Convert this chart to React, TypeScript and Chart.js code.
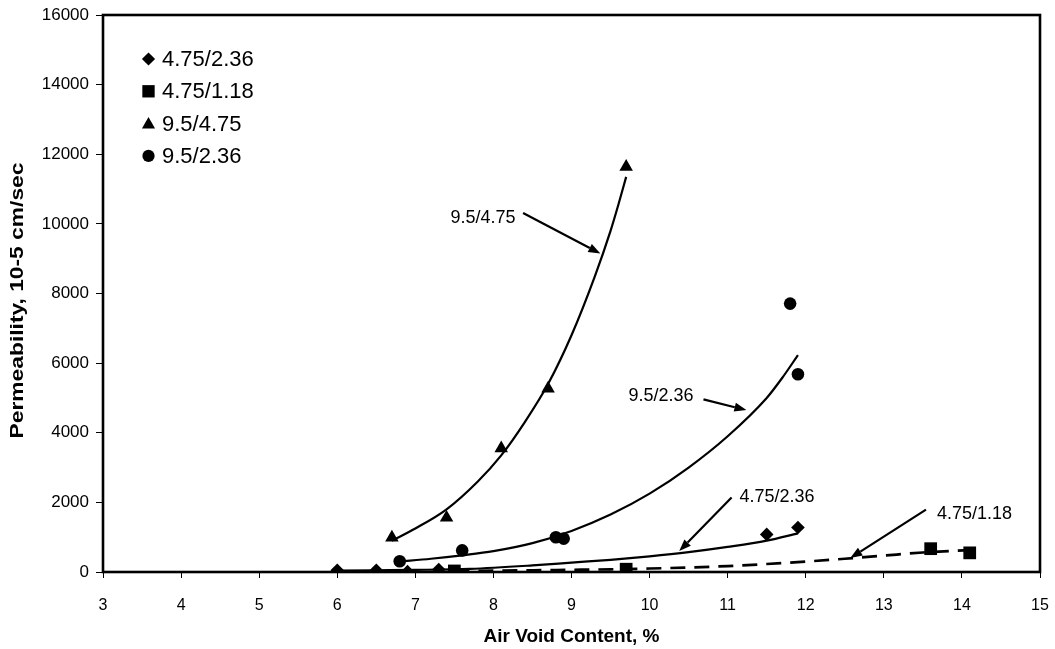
import React, { useEffect, useRef } from "react";
import { Chart, registerables } from "chart.js";

Chart.register(...registerables);

const FONT = "'Liberation Sans', Arial, Helvetica, sans-serif";

// ---- axis ----
const xMin = 3;
const xMax = 15;
const yMin = 0;
const yMax = 16000;
const xTitle = "Air Void Content, %";
const yTitle = "Permeability, 10-5 cm/sec";

// ---- series (markers) ----
const seriesNames = ["4.75/2.36", "4.75/1.18", "9.5/4.75", "9.5/2.36"];
const seriesStyles = ["rectRot", "rect", "triangle", "circle"];
const seriesRadius = [6.8, 9, 7.8, 6.3];

const s1x = [6.0, 6.5, 6.9, 7.3, 11.5, 11.9];
const s1y = [50, 50, 10, 70, 1080, 1280];
const s2x = [7.5, 9.7, 13.6, 14.1];
const s2y = [30, 80, 670, 550];
const s3x = [6.7, 7.4, 8.1, 8.7, 9.7];
const s3y = [990, 1560, 3550, 5270, 11640];
const s4x = [6.8, 7.6, 8.8, 8.9, 11.8, 11.9];
const s4y = [310, 620, 1000, 960, 7710, 5680];

// ---- trend curves ----
const t1x = [6.0, 6.5, 7.0, 7.7, 8.5, 9.0, 9.5, 10.0, 10.5, 11.0, 11.5, 11.9];
const t1y = [40, 50, 60, 90, 190, 270, 350, 450, 570, 720, 900, 1110];
const t2x = [7.5, 8.0, 8.5, 9.0, 9.5, 10.0, 10.5, 11.0, 11.5, 12.0, 12.5, 13.0, 13.5, 14.1];
const t2y = [30, 40, 50, 62, 78, 100, 130, 170, 230, 300, 380, 470, 560, 630];
const t3x = [6.7, 7.0, 7.4, 7.8, 8.1, 8.4, 8.7, 9.0, 9.3, 9.5, 9.6, 9.7];
const t3y = [900, 1250, 1800, 2600, 3350, 4300, 5400, 6800, 8500, 9800, 10550, 11350];
const t4x = [6.8, 7.2, 7.6, 8.0, 8.5, 9.0, 9.5, 10.0, 10.5, 11.0, 11.5, 11.7, 11.9];
const t4y = [300, 380, 480, 600, 830, 1180, 1650, 2250, 3000, 3900, 5000, 5580, 6230];

// ---- annotations (text + arrow), in data units ----
const annTexts = ["9.5/4.75", "9.5/2.36", "4.75/2.36", "4.75/1.18"];
const annTextX = [7.45, 9.73, 11.15, 13.68];
const annTextY = [10190, 5080, 2175, 1690];
const annFromX = [8.38, 10.69, 11.05, 13.54];
const annFromY = [10310, 4960, 2140, 1790];
const annToX = [9.37, 11.24, 10.38, 12.57];
const annToY = [9150, 4650, 600, 400];

const zip = (xs: number[], ys: number[]) => xs.map((x, i) => ({ x, y: ys[i] }));

function drawMarker(ctx: CanvasRenderingContext2D, style: string, x: number, y: number, r: number) {
  ctx.beginPath();
  if (style === "rectRot") {
    ctx.moveTo(x - r, y);
    ctx.lineTo(x, y - r);
    ctx.lineTo(x + r, y);
    ctx.lineTo(x, y + r);
    ctx.closePath();
  } else if (style === "rect") {
    const s = Math.SQRT1_2 * r;
    ctx.rect(x - s, y - s, 2 * s, 2 * s);
  } else if (style === "triangle") {
    const h = (Math.sqrt(3) / 2) * r;
    ctx.moveTo(x, y - r);
    ctx.lineTo(x + h, y + r / 2);
    ctx.lineTo(x - h, y + r / 2);
    ctx.closePath();
  } else {
    ctx.arc(x, y, r, 0, Math.PI * 2);
  }
  ctx.fill();
}

const framePlugin = {
  id: "frame",
  beforeDatasetsDraw(chart: any) {
    const { ctx, chartArea: a } = chart;
    ctx.save();
    ctx.strokeStyle = "#000";
    ctx.lineWidth = 2.6;
    ctx.strokeRect(a.left, a.top, a.right - a.left, a.bottom - a.top);
    ctx.restore();
  },
};

const overlayPlugin = {
  id: "overlay",
  afterDatasetsDraw(chart: any) {
    const { ctx, chartArea: a, scales } = chart;
    const xs = scales.x;
    const ys = scales.y;
    ctx.save();
    ctx.fillStyle = "#000";
    ctx.strokeStyle = "#000";
    // y axis title (slightly stretched along its length, as in the reference)
    ctx.save();
    ctx.font = `bold 19px ${FONT}`;
    ctx.textAlign = "center";
    ctx.textBaseline = "middle";
    ctx.translate(18, (a.top + a.bottom) / 2 + 7);
    ctx.rotate(-Math.PI / 2);
    ctx.scale(1.2, 1);
    ctx.fillText(yTitle, 0, 0);
    ctx.restore();
    // legend
    ctx.font = `22px ${FONT}`;
    ctx.textBaseline = "middle";
    ctx.textAlign = "left";
    seriesNames.forEach((name, i) => {
      const cy = a.top + 44 + i * 32.3;
      const cx = a.left + 45.5;
      drawMarker(ctx, seriesStyles[i], cx, cy + (seriesStyles[i] === "triangle" ? 1 : 0), seriesRadius[i] * 0.97);
      ctx.fillText(name, a.left + 59, cy + 1);
    });
    // annotations
    ctx.font = `18px ${FONT}`;
    annTexts.forEach((t, i) => {
      ctx.fillText(t, xs.getPixelForValue(annTextX[i]), ys.getPixelForValue(annTextY[i]) + 1);
      const fx = xs.getPixelForValue(annFromX[i]);
      const fy = ys.getPixelForValue(annFromY[i]);
      const tx = xs.getPixelForValue(annToX[i]);
      const ty = ys.getPixelForValue(annToY[i]);
      const ang = Math.atan2(ty - fy, tx - fx);
      const L = 12;
      const W = 4.5;
      const bx = tx - Math.cos(ang) * L;
      const by = ty - Math.sin(ang) * L;
      ctx.lineWidth = 2.2;
      ctx.beginPath();
      ctx.moveTo(fx, fy);
      ctx.lineTo(bx, by);
      ctx.stroke();
      ctx.beginPath();
      ctx.moveTo(tx, ty);
      ctx.lineTo(bx - Math.sin(ang) * W, by + Math.cos(ang) * W);
      ctx.lineTo(bx + Math.sin(ang) * W, by - Math.cos(ang) * W);
      ctx.closePath();
      ctx.fill();
    });
    ctx.restore();
  },
};

export default function App() {
  const ref = useRef<HTMLCanvasElement | null>(null);
  useEffect(() => {
    if (!ref.current) return;
    const trend = (xs: number[], ys: number[], dash: number[] = [], w = 2.2) => ({
      data: zip(xs, ys),
      showLine: true,
      borderColor: "#000",
      borderWidth: w,
      borderDash: dash,
      pointRadius: 0,
      pointHoverRadius: 0,
      cubicInterpolationMode: "monotone" as const,
      fill: false,
    });
    const marks = (xs: number[], ys: number[], i: number) => ({
      label: seriesNames[i],
      data: zip(xs, ys),
      showLine: false,
      pointStyle: seriesStyles[i],
      pointRadius: seriesRadius[i],
      pointBackgroundColor: "#000",
      pointBorderColor: "#000",
      pointBorderWidth: 0,
    });
    const chart = new Chart(ref.current, {
      type: "scatter",
      data: {
        datasets: [
          trend(t1x, t1y),
          trend(t2x, t2y, [15, 9], 2.7),
          trend(t3x, t3y),
          trend(t4x, t4y),
          marks(s1x, s1y, 0),
          marks(s2x, s2y, 1),
          marks(s3x, s3y, 2),
          marks(s4x, s4y, 3),
        ] as any,
      },
      options: {
        animation: false,
        responsive: true,
        maintainAspectRatio: false,
        layout: { padding: { left: 0, right: 15, top: 15, bottom: 0 } },
        plugins: { legend: { display: false }, tooltip: { enabled: false } },
        scales: {
          x: {
            type: "linear",
            min: xMin,
            max: xMax,
            afterFit: (s: any) => {
              s.height = 77;
              s.paddingLeft = 0;
              s.paddingRight = 0;
            },
            border: { display: false },
            grid: { display: true, drawOnChartArea: false, drawTicks: true, tickLength: 6, color: "#000", lineWidth: 1 },
            ticks: { stepSize: 1, color: "#000", font: { family: FONT, size: 16 }, padding: 18 },
            title: { display: true, text: xTitle, color: "#000", font: { family: FONT, size: 19, weight: "bold" }, padding: { top: 0, bottom: 1 } },
          },
          y: {
            type: "linear",
            min: yMin,
            max: yMax,
            afterFit: (s: any) => {
              s.width = 103;
              s.paddingTop = 0;
              s.paddingBottom = 0;
            },
            border: { display: false },
            grid: { display: true, drawOnChartArea: false, drawTicks: true, tickLength: 7, color: "#000", lineWidth: 1 },
            ticks: { stepSize: 2000, color: "#000", font: { family: FONT, size: 17 }, padding: 7, callback: (v: any) => String(v) },
            title: { display: false },
          },
        },
      },
      plugins: [framePlugin, overlayPlugin],
    });
    return () => chart.destroy();
  }, []);
  return (
    <div style={{ position: "fixed", left: 0, top: 0, width: 1055, height: 649, background: "#fff" }}>
      <canvas ref={ref} />
    </div>
  );
}
